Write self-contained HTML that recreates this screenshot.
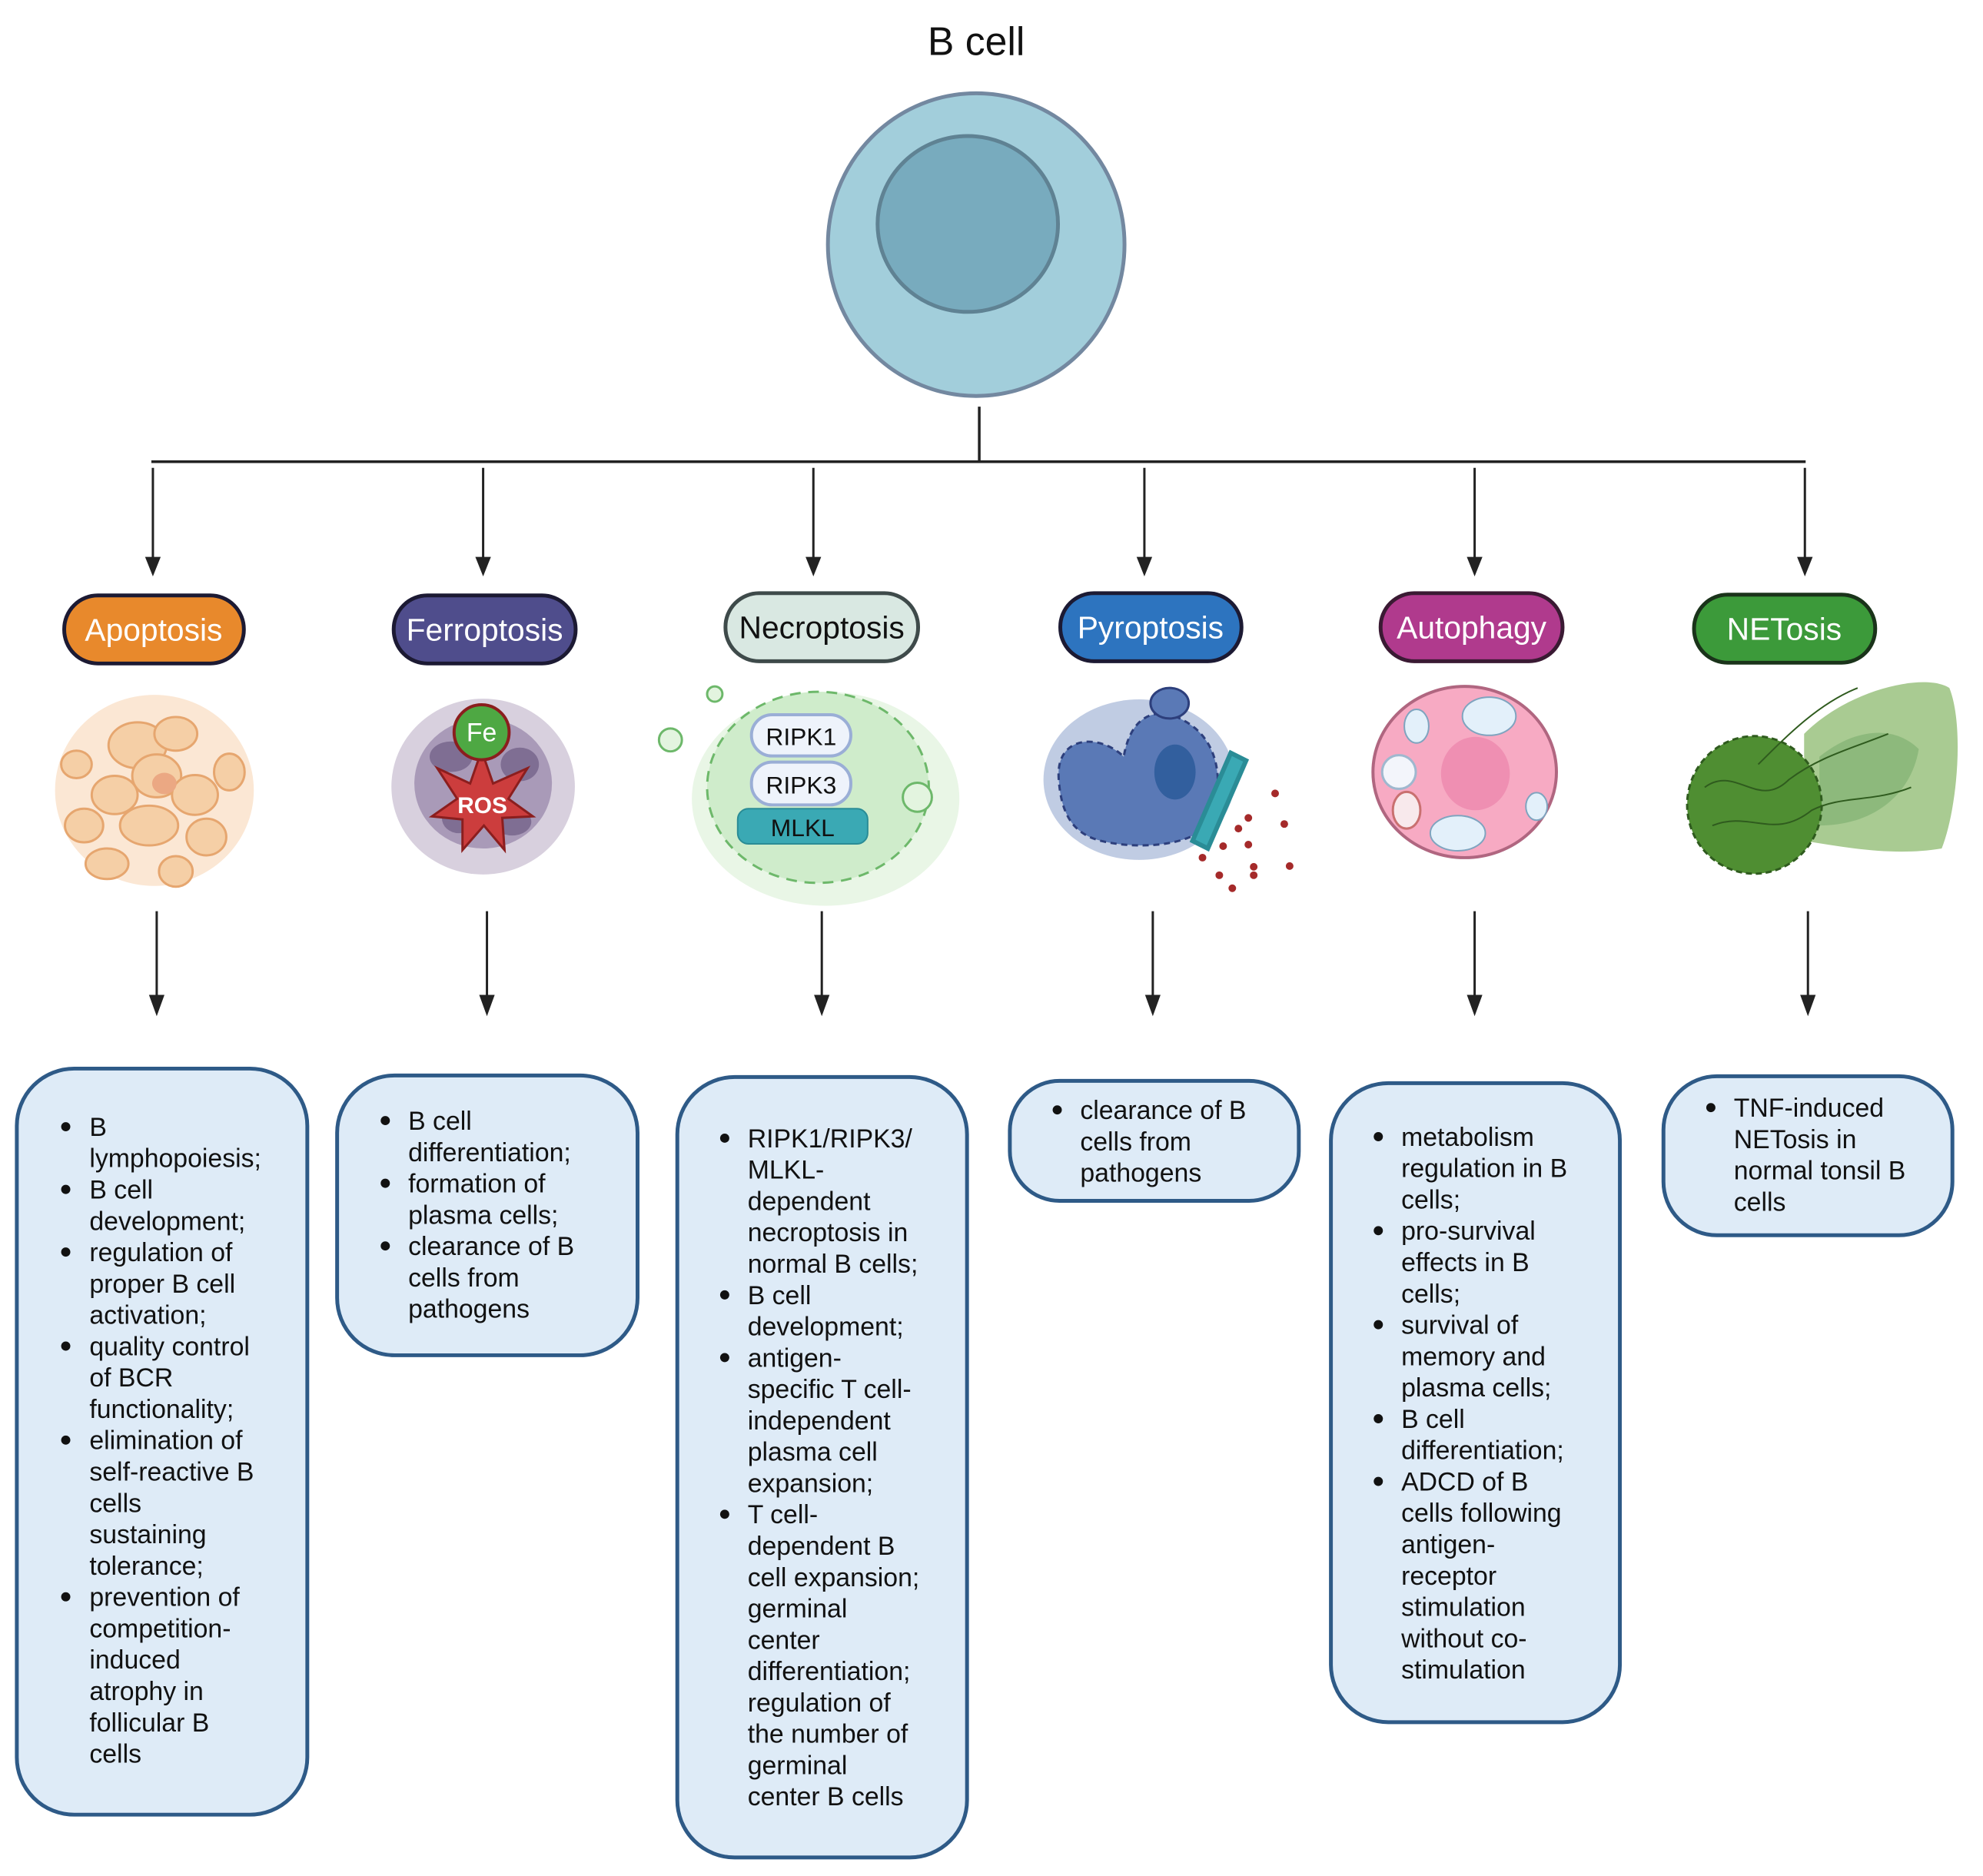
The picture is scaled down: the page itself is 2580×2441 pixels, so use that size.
<!DOCTYPE html>
<html><head><meta charset="utf-8"><style>
html,body{margin:0;padding:0;background:#fff;}
svg{display:block;}
text{font-family:"Liberation Sans",sans-serif;}
.bt{font-size:34px;fill:#111;}
.pl{font-size:41px;text-anchor:middle;}
</style></head><body>
<svg width="2580" height="2441" viewBox="0 0 2580 2441" xmlns="http://www.w3.org/2000/svg">
<g transform="scale(0.9946)">
<!-- title -->
<text x="1277" y="72" font-size="52" text-anchor="middle" fill="#111">B cell</text>
<ellipse cx="1277" cy="320" rx="194" ry="198" fill="#a2cedb" stroke="#7388a0" stroke-width="5"/>
<ellipse cx="1266" cy="293" rx="118" ry="115" fill="#78abbe" stroke="#5f8293" stroke-width="5"/>
<!-- tree -->
<g stroke="#222" stroke-width="3.5" fill="none">
<line x1="1281" y1="532" x2="1281" y2="604"/>
<line x1="198" y1="604" x2="2362" y2="604"/>
</g>
<g fill="#222" stroke="#222" stroke-width="3">
<line x1="200" y1="612" x2="200" y2="735"/><path d="M192,730 L208,730 L200,750 z"/>
<line x1="632" y1="612" x2="632" y2="735"/><path d="M624,730 L640,730 L632,750 z"/>
<line x1="1064" y1="612" x2="1064" y2="735"/><path d="M1056,730 L1072,730 L1064,750 z"/>
<line x1="1497" y1="612" x2="1497" y2="735"/><path d="M1489,730 L1505,730 L1497,750 z"/>
<line x1="1929" y1="612" x2="1929" y2="735"/><path d="M1921,730 L1937,730 L1929,750 z"/>
<line x1="2361" y1="612" x2="2361" y2="735"/><path d="M2353,730 L2369,730 L2361,750 z"/>

<line x1="205" y1="1192" x2="205" y2="1308"/><path d="M197,1303 L213,1303 L205,1325 z"/>
<line x1="637" y1="1192" x2="637" y2="1308"/><path d="M629,1303 L645,1303 L637,1325 z"/>
<line x1="1075" y1="1192" x2="1075" y2="1308"/><path d="M1067,1303 L1083,1303 L1075,1325 z"/>
<line x1="1508" y1="1192" x2="1508" y2="1308"/><path d="M1500,1303 L1516,1303 L1508,1325 z"/>
<line x1="1929" y1="1192" x2="1929" y2="1308"/><path d="M1921,1303 L1937,1303 L1929,1325 z"/>
<line x1="2365" y1="1192" x2="2365" y2="1308"/><path d="M2357,1303 L2373,1303 L2365,1325 z"/>
</g>
<!-- pills -->
<g stroke-width="5">
<rect x="84" y="779" width="235" height="89" rx="44" fill="#e8892c" stroke="#1c1a33"/>
<rect x="515" y="779" width="238" height="89" rx="44" fill="#4f4d8c" stroke="#1c1a33"/>
<rect x="949" y="776" width="252" height="89" rx="44" fill="#d9e8e2" stroke="#3e4a4a"/>
<rect x="1387" y="776" width="237" height="89" rx="44" fill="#2d74bf" stroke="#1c1a33"/>
<rect x="1806" y="776" width="238" height="89" rx="44" fill="#b03a8d" stroke="#3a1a33"/>
<rect x="2216" y="778" width="237" height="89" rx="44" fill="#3c9a3a" stroke="#1a331a"/>
</g>
<text class="pl" x="201" y="838" fill="#fff">Apoptosis</text>
<text class="pl" x="634" y="838" fill="#fff">Ferroptosis</text>
<text class="pl" x="1075" y="835" fill="#111">Necroptosis</text>
<text class="pl" x="1505" y="835" fill="#fff">Pyroptosis</text>
<text class="pl" x="1925" y="835" fill="#fff">Autophagy</text>
<text class="pl" x="2334" y="837" fill="#fff">NETosis</text>

<!-- apoptosis illustration -->
<g>
<ellipse cx="202" cy="1034" rx="130" ry="125" fill="#fbe7d4"/>
<g fill="#f5cfa6" stroke="#e6a66f" stroke-width="3">
<ellipse cx="180" cy="975" rx="38" ry="30"/><ellipse cx="230" cy="960" rx="28" ry="22"/>
<ellipse cx="150" cy="1040" rx="30" ry="25"/><ellipse cx="205" cy="1015" rx="32" ry="28"/>
<ellipse cx="255" cy="1040" rx="30" ry="26"/><ellipse cx="195" cy="1080" rx="38" ry="26"/>
<ellipse cx="110" cy="1080" rx="25" ry="22"/><ellipse cx="270" cy="1095" rx="26" ry="24"/>
<ellipse cx="140" cy="1130" rx="28" ry="20"/><ellipse cx="230" cy="1140" rx="22" ry="20"/>
<ellipse cx="100" cy="1000" rx="20" ry="18"/><ellipse cx="300" cy="1010" rx="20" ry="24"/>
</g>
<ellipse cx="215" cy="1025" rx="16" ry="14" fill="#eba883"/>
</g>
<!-- ferroptosis -->
<g>
<ellipse cx="632" cy="1029" rx="120" ry="115" fill="#d8d0de"/>
<ellipse cx="632" cy="1025" rx="90" ry="85" fill="#a99ab8"/>
<g fill="#7f6e93"><ellipse cx="590" cy="990" rx="28" ry="20"/><ellipse cx="680" cy="1000" rx="25" ry="22"/><ellipse cx="600" cy="1070" rx="22" ry="20"/><ellipse cx="670" cy="1075" rx="25" ry="18"/></g>
<path d="M630,982 L645,1025 L690,1005 L665,1045 L697,1068 L657,1070 L660,1112 L633,1080 L605,1112 L605,1072 L565,1068 L598,1045 L572,1005 L615,1025 z" fill="#cc3d3d" stroke="#8b1e1e" stroke-width="3"/>
<text x="631" y="1064" font-size="30" font-weight="bold" text-anchor="middle" fill="#fff">ROS</text>
<circle cx="630" cy="958" r="36" fill="#4ea843" stroke="#8b1e1e" stroke-width="4"/>
<text x="630" y="970" font-size="34" text-anchor="middle" fill="#fff">Fe</text>
</g>
<!-- necroptosis -->
<g>
<ellipse cx="1080" cy="1045" rx="175" ry="140" fill="#e9f6e6"/>
<ellipse cx="1070" cy="1030" rx="145" ry="125" fill="#cfeccb" stroke="#6db86a" stroke-width="3" stroke-dasharray="14,10"/>
<circle cx="877" cy="968" r="15" fill="#e3f4df" stroke="#6db86a" stroke-width="3"/>
<circle cx="1200" cy="1043" r="19" fill="#e3f4df" stroke="#6db86a" stroke-width="3"/>
<circle cx="935" cy="908" r="10" fill="#e3f4df" stroke="#6db86a" stroke-width="3"/>
<rect x="965" y="1058" width="170" height="46" rx="14" fill="#3aa9b4" stroke="#2a8c96" stroke-width="2"/>
<text x="1050" y="1094" font-size="32" text-anchor="middle" fill="#111">MLKL</text>
<rect x="983" y="935" width="130" height="54" rx="27" fill="#eef3fb" stroke="#9aaed6" stroke-width="4"/>
<text x="1048" y="975" font-size="32" text-anchor="middle" fill="#111">RIPK1</text>
<rect x="983" y="997" width="130" height="56" rx="27" fill="#eef3fb" stroke="#9aaed6" stroke-width="4"/>
<text x="1048" y="1038" font-size="32" text-anchor="middle" fill="#111">RIPK3</text>
</g>
<!-- pyroptosis -->
<g>
<ellipse cx="1490" cy="1020" rx="125" ry="105" fill="#c0cce3"/>
<path d="M1385,1020 C1380,960 1440,960 1470,990 C1480,930 1520,920 1560,950 C1600,980 1600,1040 1580,1080 C1550,1110 1480,1110 1440,1100 C1400,1090 1388,1060 1385,1020 z" fill="#5a79b6" stroke="#2d3f7c" stroke-width="3" stroke-dasharray="8,6"/>
<ellipse cx="1530" cy="920" rx="25" ry="20" fill="#5a79b6" stroke="#2d3f7c" stroke-width="3"/>
<ellipse cx="1537" cy="1010" rx="27" ry="36" fill="#325f9e"/>
<path d="M1560,1100 L1610,985 L1630,995 L1580,1110 z" fill="#3aa9b4" stroke="#2a8c96" stroke-width="6"/>
<g fill="#a52a2a"><circle cx="1668" cy="1038" r="5"/><circle cx="1633" cy="1070" r="5"/><circle cx="1620" cy="1084" r="5"/><circle cx="1680" cy="1078" r="5"/><circle cx="1633" cy="1105" r="5"/><circle cx="1600" cy="1107" r="5"/><circle cx="1640" cy="1134" r="5"/><circle cx="1595" cy="1145" r="5"/><circle cx="1687" cy="1133" r="5"/><circle cx="1573" cy="1122" r="5"/><circle cx="1612" cy="1162" r="5"/><circle cx="1640" cy="1145" r="5"/></g>
</g>
<!-- autophagy -->
<g>
<ellipse cx="1916" cy="1010" rx="120" ry="112" fill="#f7aac3" stroke="#b06680" stroke-width="4"/>
<ellipse cx="1930" cy="1012" rx="45" ry="48" fill="#ef8fb2"/>
<ellipse cx="1948" cy="937" rx="35" ry="25" fill="#e3f0fa" stroke="#7fa4bf" stroke-width="2"/>
<ellipse cx="1853" cy="950" rx="16" ry="22" fill="#e3f0fa" stroke="#7fa4bf" stroke-width="2"/>
<ellipse cx="1907" cy="1090" rx="36" ry="23" fill="#e3f0fa" stroke="#7fa4bf" stroke-width="2"/>
<ellipse cx="2010" cy="1055" rx="14" ry="18" fill="#e3f0fa" stroke="#7fa4bf" stroke-width="2"/>
<circle cx="1830" cy="1010" r="22" fill="#f3f5fb" stroke="#9fb8cf" stroke-width="3"/>
<ellipse cx="1840" cy="1060" rx="18" ry="24" fill="#f8e9ec" stroke="#c97070" stroke-width="3"/>
</g>
<!-- NETosis -->
<g>
<path d="M2360,960 C2420,900 2520,880 2550,900 C2570,950 2560,1060 2540,1110 C2480,1120 2420,1110 2360,1100 z" fill="#a9cb92"/>
<path d="M2380,990 C2430,950 2480,950 2510,980 C2500,1040 2450,1080 2380,1080 z" fill="#8db97c"/>
<ellipse cx="2295" cy="1053" rx="88" ry="90" fill="#4f8e32" stroke="#2f5b1e" stroke-width="3" stroke-dasharray="8,5"/>
<g fill="none" stroke="#2f5b1e" stroke-width="2"><path d="M2230,1030 C2270,1000 2300,1060 2340,1020 C2380,990 2420,980 2470,960"/><path d="M2240,1080 C2290,1060 2320,1100 2370,1060 C2410,1040 2450,1050 2500,1030"/><path d="M2300,1000 C2340,960 2380,920 2430,900"/></g>
</g>

<!-- text boxes -->
<g fill="#deebf7" stroke="#2e5a87" stroke-width="5">
<rect x="22" y="1398" width="380" height="976" rx="75"/>
<rect x="441" y="1407" width="393" height="366" rx="75"/>
<rect x="886" y="1409" width="379" height="1021" rx="75"/>
<rect x="1321" y="1414" width="378" height="157" rx="65"/>
<rect x="1741" y="1417" width="378" height="836" rx="75"/>
<rect x="2176" y="1408" width="378" height="208" rx="70"/>
</g>
<g class="bt" fill="#111">
<text class="bt" x="117" y="1486"><tspan x="117">B</tspan><tspan x="117" dy="41">lymphopoiesis;</tspan><tspan x="117" dy="41">B cell</tspan><tspan x="117" dy="41">development;</tspan><tspan x="117" dy="41">regulation of</tspan><tspan x="117" dy="41">proper B cell</tspan><tspan x="117" dy="41">activation;</tspan><tspan x="117" dy="41">quality control</tspan><tspan x="117" dy="41">of BCR</tspan><tspan x="117" dy="41">functionality;</tspan><tspan x="117" dy="41">elimination of</tspan><tspan x="117" dy="41">self-reactive B</tspan><tspan x="117" dy="41">cells</tspan><tspan x="117" dy="41">sustaining</tspan><tspan x="117" dy="41">tolerance;</tspan><tspan x="117" dy="41">prevention of</tspan><tspan x="117" dy="41">competition-</tspan><tspan x="117" dy="41">induced</tspan><tspan x="117" dy="41">atrophy in</tspan><tspan x="117" dy="41">follicular B</tspan><tspan x="117" dy="41">cells</tspan></text>
<circle cx="86" cy="1474" r="6"/><circle cx="86" cy="1556" r="6"/><circle cx="86" cy="1638" r="6"/><circle cx="86" cy="1761" r="6"/><circle cx="86" cy="1884" r="6"/><circle cx="86" cy="2089" r="6"/>

<text class="bt" x="534" y="1478"><tspan x="534">B cell</tspan><tspan x="534" dy="41">differentiation;</tspan><tspan x="534" dy="41">formation of</tspan><tspan x="534" dy="41">plasma cells;</tspan><tspan x="534" dy="41">clearance of B</tspan><tspan x="534" dy="41">cells from</tspan><tspan x="534" dy="41">pathogens</tspan></text>
<circle cx="504" cy="1466" r="6"/><circle cx="504" cy="1548" r="6"/><circle cx="504" cy="1630" r="6"/>

<text class="bt" x="978" y="1501"><tspan x="978">RIPK1/RIPK3/</tspan><tspan x="978" dy="41">MLKL-</tspan><tspan x="978" dy="41">dependent</tspan><tspan x="978" dy="41">necroptosis in</tspan><tspan x="978" dy="41">normal B cells;</tspan><tspan x="978" dy="41">B cell</tspan><tspan x="978" dy="41">development;</tspan><tspan x="978" dy="41">antigen-</tspan><tspan x="978" dy="41">specific T cell-</tspan><tspan x="978" dy="41">independent</tspan><tspan x="978" dy="41">plasma cell</tspan><tspan x="978" dy="41">expansion;</tspan><tspan x="978" dy="41">T cell-</tspan><tspan x="978" dy="41">dependent B</tspan><tspan x="978" dy="41">cell expansion;</tspan><tspan x="978" dy="41">germinal</tspan><tspan x="978" dy="41">center</tspan><tspan x="978" dy="41">differentiation;</tspan><tspan x="978" dy="41">regulation of</tspan><tspan x="978" dy="41">the number of</tspan><tspan x="978" dy="41">germinal</tspan><tspan x="978" dy="41">center B cells</tspan></text>
<circle cx="948" cy="1489" r="6"/><circle cx="948" cy="1694" r="6"/><circle cx="948" cy="1776" r="6"/><circle cx="948" cy="1981" r="6"/>

<text class="bt" x="1413" y="1464"><tspan x="1413">clearance of B</tspan><tspan x="1413" dy="41">cells from</tspan><tspan x="1413" dy="41">pathogens</tspan></text>
<circle cx="1383" cy="1452" r="6"/>

<text class="bt" x="1833" y="1499"><tspan x="1833">metabolism</tspan><tspan x="1833" dy="41">regulation in B</tspan><tspan x="1833" dy="41">cells;</tspan><tspan x="1833" dy="41">pro-survival</tspan><tspan x="1833" dy="41">effects in B</tspan><tspan x="1833" dy="41">cells;</tspan><tspan x="1833" dy="41">survival of</tspan><tspan x="1833" dy="41">memory and</tspan><tspan x="1833" dy="41">plasma cells;</tspan><tspan x="1833" dy="41">B cell</tspan><tspan x="1833" dy="41">differentiation;</tspan><tspan x="1833" dy="41">ADCD of B</tspan><tspan x="1833" dy="41">cells following</tspan><tspan x="1833" dy="41">antigen-</tspan><tspan x="1833" dy="41">receptor</tspan><tspan x="1833" dy="41">stimulation</tspan><tspan x="1833" dy="41">without co-</tspan><tspan x="1833" dy="41">stimulation</tspan></text>
<circle cx="1803" cy="1487" r="6"/><circle cx="1803" cy="1610" r="6"/><circle cx="1803" cy="1733" r="6"/><circle cx="1803" cy="1856" r="6"/><circle cx="1803" cy="1938" r="6"/>

<text class="bt" x="2268" y="1461"><tspan x="2268">TNF-induced</tspan><tspan x="2268" dy="41">NETosis in</tspan><tspan x="2268" dy="41">normal tonsil B</tspan><tspan x="2268" dy="41">cells</tspan></text>
<circle cx="2238" cy="1449" r="6"/>
</g>
</g>
</svg>
</body></html>
